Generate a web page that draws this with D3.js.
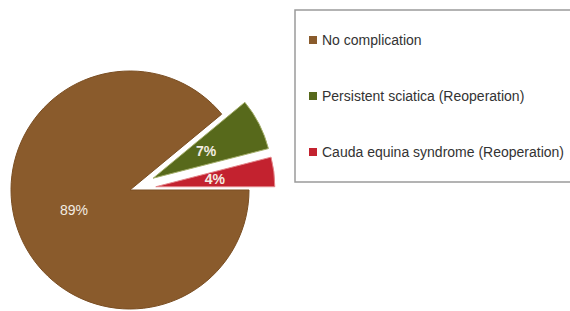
<!DOCTYPE html>
<html>
<head>
<meta charset="utf-8">
<script src="https://cdn.jsdelivr.net/npm/d3@7"></script>
<style>
  body { margin: 0; background: #fff; }
  svg { display: block; font-family: "Liberation Sans", Arial, sans-serif; }
</style>
</head>
<body>
<div class="chart"></div>
<script>
var categories = ["No complication", "Persistent sciatica (Reoperation)", "Cauda equina syndrome (Reoperation)"];
var values = [89, 7, 4];
var labels = ["89%", "7%", "4%"];
var colors = ["#8a5b2c", "#57691b", "#c3222f"];
var strokes = ["#7a4e22", "#a4ae6a", "#e3868a"];
var explode = [0, 26, 26];

var width = 570, height = 311;
var cx = 130, cy = 190, r = 119;

var svg = d3.select(".chart")
    .append("svg")
    .attr("width", width)
    .attr("height", height);

var data = categories.map(function(c, i){
    return {name: c, value: values[i], label: labels[i], i: i};
});

var pie = d3.pie()
    .sort(null)
    .value(function(d){ return d.value; })
    .startAngle(Math.PI / 2)
    .endAngle(Math.PI / 2 + 2 * Math.PI);

var arc = d3.arc().innerRadius(0).outerRadius(r);
var labelArc = d3.arc().innerRadius(r * 0.5).outerRadius(r * 0.5);

var arcs = pie(data);

var g = svg.append("g")
    .attr("transform", "translate(" + cx + "," + cy + ")");

var slice = g.selectAll(".slice")
    .data(arcs)
    .enter()
    .append("g")
    .attr("class", "slice")
    .attr("transform", function(d){
        var a = (d.startAngle + d.endAngle) / 2;
        var e = explode[d.data.i];
        return "translate(" + (Math.sin(a) * e) + "," + (-Math.cos(a) * e) + ")";
    });

slice.append("path")
    .attr("d", arc)
    .style("fill", function(d){ return colors[d.data.i]; })
    .style("stroke", function(d){ return strokes[d.data.i]; })
    .style("stroke-width", 1);

slice.append("text")
    .attr("transform", function(d){ return "translate(" + labelArc.centroid(d) + ")"; })
    .attr("text-anchor", "middle")
    .attr("dy", "0.35em")
    .style("fill", "#f3ece2")
    .style("font-size", "14px")
    .style("font-weight", function(d){ return d.data.i == 0 ? "normal" : "bold"; })
    .text(function(d){ return d.data.label; });

// legend
var legend = svg.append("g");

legend.append("rect")
    .attr("x", 295)
    .attr("y", 10)
    .attr("width", 290)
    .attr("height", 172)
    .style("fill", "#fff")
    .style("stroke", "#9a9a9a")
    .style("stroke-width", 1.5);

var legendY = d3.scalePoint()
    .domain(categories)
    .range([40, 152]);

var item = legend.selectAll(".item")
    .data(data)
    .enter()
    .append("g")
    .attr("class", "item")
    .attr("transform", function(d){ return "translate(309," + legendY(d.name) + ")"; });

item.append("rect")
    .attr("x", 0)
    .attr("y", -4)
    .attr("width", 8)
    .attr("height", 8)
    .style("fill", function(d){ return colors[d.i]; });

item.append("text")
    .attr("x", 13)
    .attr("dy", "0.35em")
    .style("font-size", "14px")
    .style("fill", "#333")
    .text(function(d){ return d.name; });
</script>
</body>
</html>
